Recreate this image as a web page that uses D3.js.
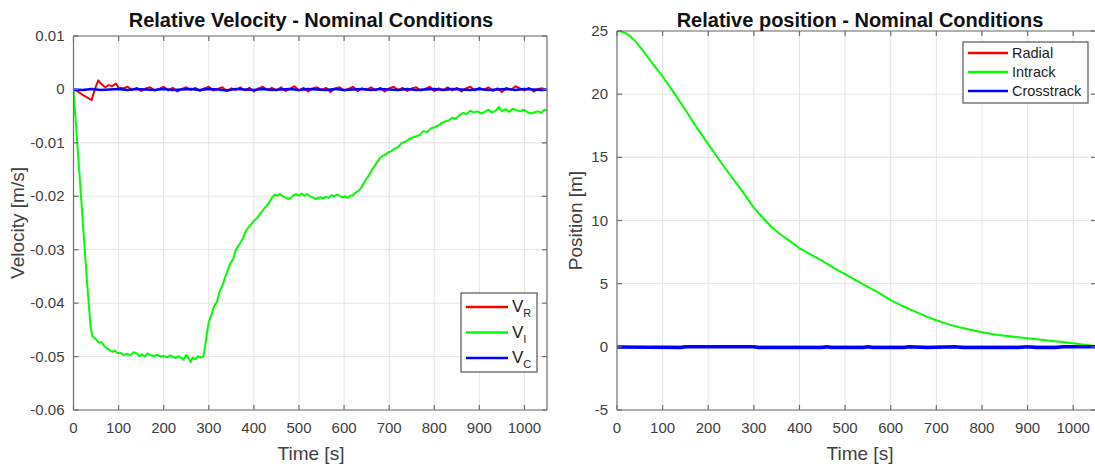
<!DOCTYPE html>
<html>
<head>
<meta charset="utf-8">
<script src="https://cdn.jsdelivr.net/npm/d3@7"></script>
<style>
  body { margin: 0; background: #fff; }
  svg { display: block; font-family: "Liberation Sans", Arial, sans-serif; }
</style>
</head>
<body>
<svg id="chart" width="1095" height="466"></svg>
<script>
// ---- data ----
var xTicks = [0, 100, 200, 300, 400, 500, 600, 700, 800, 900, 1000]
var velTicks = [0.01, 0, -0.01, -0.02, -0.03, -0.04, -0.05, -0.06]
var posTicks = [25, 20, 15, 10, 5, 0, -5]

// relative velocity, [time s, m/s]
var velIntrack = [[0,0],[5,-0.006],[10,-0.012],[20,-0.024],[30,-0.036],[38,-0.0445],[42,-0.0462],[50,-0.0468],[56,-0.0474],[62,-0.0473],[70,-0.0482],[78,-0.0487],[86,-0.0491],[92,-0.0489],[98,-0.0494],[104,-0.0493],[110,-0.0497],[118,-0.0495],[126,-0.0497],[134,-0.0492],[140,-0.0494],[146,-0.0499],[152,-0.0496],[158,-0.0500],[164,-0.0494],[170,-0.0497],[178,-0.0499],[186,-0.0497],[194,-0.0500],[200,-0.0499],[208,-0.0501],[214,-0.0498],[220,-0.0500],[226,-0.0503],[232,-0.0499],[238,-0.0502],[244,-0.0506],[250,-0.0497],[256,-0.0504],[260,-0.0510],[264,-0.0502],[270,-0.0505],[276,-0.0499],[282,-0.0502],[288,-0.0500],[292,-0.0480],[296,-0.0455],[300,-0.0435],[306,-0.0422],[312,-0.0405],[318,-0.0398],[324,-0.0378],[330,-0.0368],[336,-0.0352],[342,-0.0338],[348,-0.0325],[354,-0.0318],[360,-0.0300],[368,-0.0290],[376,-0.0278],[384,-0.0262],[392,-0.0255],[400,-0.0246],[408,-0.0240],[416,-0.0230],[424,-0.0222],[432,-0.0214],[440,-0.0203],[446,-0.0197],[452,-0.0199],[458,-0.0196],[464,-0.0200],[470,-0.0202],[476,-0.0205],[482,-0.0203],[488,-0.0198],[494,-0.0196],[500,-0.0199],[506,-0.0195],[512,-0.0199],[518,-0.0196],[524,-0.0200],[530,-0.0202],[536,-0.0205],[542,-0.0203],[548,-0.0202],[554,-0.0204],[560,-0.0201],[566,-0.0203],[572,-0.0198],[578,-0.0200],[584,-0.0197],[590,-0.0199],[596,-0.0202],[602,-0.0200],[608,-0.0203],[614,-0.0199],[620,-0.0198],[626,-0.0193],[632,-0.0190],[638,-0.0184],[644,-0.0175],[650,-0.0167],[656,-0.0160],[662,-0.0150],[668,-0.0143],[674,-0.0135],[680,-0.0128],[686,-0.0124],[692,-0.0122],[698,-0.0118],[704,-0.0116],[712,-0.0111],[720,-0.0108],[728,-0.0100],[736,-0.0098],[744,-0.0093],[752,-0.0090],[760,-0.0088],[768,-0.0085],[776,-0.0078],[784,-0.0080],[792,-0.0073],[800,-0.0071],[808,-0.0068],[816,-0.0063],[824,-0.0060],[832,-0.0058],[840,-0.0053],[848,-0.0055],[856,-0.0048],[864,-0.0044],[872,-0.0046],[880,-0.0040],[888,-0.0043],[896,-0.0041],[904,-0.0045],[912,-0.0042],[920,-0.0038],[928,-0.0043],[936,-0.0040],[944,-0.0033],[950,-0.0041],[958,-0.0037],[966,-0.0042],[974,-0.0036],[982,-0.0039],[990,-0.0041],[998,-0.0038],[1006,-0.0042],[1014,-0.0045],[1022,-0.0043],[1030,-0.0041],[1038,-0.0044],[1044,-0.0038],[1050,-0.0040]]

var velRadial = [[0,0],[10,-0.0004],[20,-0.0010],[30,-0.0015],[40,-0.0020],[48,0.0002],[55,0.0017],[62,0.0010],[70,0.0004],[78,0.0008],[86,0.0006],[94,0.0011],[100,0.0003],[110,0.0002],[120,0.0005],[130,-0.0001],[140,0.0003],[150,-0.0003],[160,0.0002],[170,0.0004],[180,-0.0002],[190,0.0001],[200,0.0005],[210,-0.0002],[220,0.0003],[230,-0.0004],[240,0.0001],[250,0.0004],[260,-0.0001],[270,0.0003],[280,-0.0003],[290,0.0002],[300,0.0005],[310,-0.0002],[320,0.0001],[330,0.0004],[340,-0.0003],[350,0.0002],[360,-0.0001],[370,0.0004],[380,-0.0002],[390,0.0003],[400,-0.0004],[410,0.0002],[420,0.0005],[430,-0.0001],[440,0.0003],[450,-0.0002],[460,0.0004],[470,-0.0003],[480,0.0001],[490,0.0006],[500,-0.0002],[510,0.0003],[520,-0.0004],[530,0.0002],[540,0.0004],[550,-0.0001],[560,0.0003],[570,-0.0005],[580,0.0002],[590,0.0004],[600,-0.0002],[610,0.0001],[620,0.0005],[630,-0.0003],[640,0.0002],[650,-0.0001],[660,0.0004],[670,-0.0002],[680,0.0003],[690,-0.0004],[700,0.0002],[710,0.0005],[720,-0.0001],[730,0.0003],[740,-0.0003],[750,0.0002],[760,0.0004],[770,-0.0002],[780,0.0001],[790,0.0005],[800,-0.0003],[810,0.0002],[820,-0.0001],[830,0.0004],[840,-0.0002],[850,0.0003],[860,-0.0004],[870,0.0002],[880,0.0005],[890,-0.0002],[900,0.0003],[910,-0.0001],[920,0.0004],[930,-0.0003],[940,0.0002],[950,-0.0005],[960,0.0003],[970,-0.0001],[980,0.0006],[990,0.0002],[1000,-0.0002],[1010,0.0003],[1020,-0.0004],[1030,0.0001],[1040,0.0002],[1050,-0.0001]]

var velCross = [[0,0],[20,-0.0001],[40,0.0001],[60,-0.0001],[80,0.0000],[100,0.0001],[120,-0.0001],[140,0.0001],[160,0.0000],[180,-0.0001],[200,0.0001],[220,-0.0001],[240,0.0000],[260,0.0001],[280,-0.0001],[300,0.0001],[320,0.0000],[340,-0.0002],[360,0.0001],[380,0.0000],[400,-0.0001],[420,0.0001],[440,-0.0001],[460,0.0000],[480,0.0001],[500,-0.0001],[520,0.0001],[540,0.0000],[560,-0.0001],[580,0.0001],[600,-0.0001],[620,0.0000],[640,0.0001],[660,-0.0001],[680,0.0001],[700,0.0000],[720,-0.0001],[740,0.0001],[760,-0.0001],[780,0.0000],[800,0.0001],[820,-0.0001],[840,0.0001],[860,0.0000],[880,-0.0001],[900,0.0001],[920,-0.0001],[940,0.0000],[960,0.0001],[980,-0.0001],[1000,0.0001],[1020,0.0000],[1040,-0.0001],[1050,0.0000]]

// relative position, [time s, m]
var posIntrack = [[0,25],[10,24.95],[20,24.8],[30,24.55],[40,24.2],[50,23.76],[60,23.3],[75,22.55],[100,21.4],[125,20.1],[150,18.75],[175,17.35],[200,16.05],[225,14.75],[250,13.5],[275,12.3],[300,11.0],[320,10.2],[340,9.45],[360,8.85],[380,8.35],[400,7.8],[425,7.3],[450,6.8],[475,6.25],[500,5.75],[525,5.25],[550,4.75],[575,4.25],[600,3.7],[625,3.25],[650,2.85],[675,2.45],[700,2.1],[725,1.8],[750,1.55],[775,1.35],[800,1.15],[825,1.0],[850,0.88],[875,0.78],[900,0.68],[925,0.58],[950,0.48],[975,0.38],[1000,0.28],[1025,0.16],[1050,0.05]]
var posRadial = [[0,0],[60,-0.03],[70,-0.06],[80,0],[1050,0]]
var posCross = [[0,-0.02],[140,-0.05],[150,0],[300,0],[310,-0.05],[450,-0.06],[460,0],[470,-0.05],[540,-0.06],[550,0],[560,-0.05],[630,-0.06],[640,0],[680,-0.05],[740,0],[760,-0.05],[880,-0.06],[900,0],[920,-0.06],[960,-0.05],[980,0],[1050,0]]

// ---- drawing ----
var svg = d3.select('#chart')
var TEXT = '#404040'
var AXIS = '#6e6e6e'

function drawPanel(cfg) {
  var x = d3.scaleLinear().domain([0, 1050]).range(cfg.xRange)
  var y = d3.scaleLinear().domain(cfg.yDomain).range(cfg.yRange)
  var g = svg.append('g')
  var x0 = cfg.xRange[0], x1 = cfg.xRange[1], y0 = cfg.yRange[1], y1 = cfg.yRange[0]

  // grid
  g.selectAll('.vgrid').data(xTicks.filter(function(d) { return d > 0 }))
    .enter().append('line')
    .attr('x1', x).attr('x2', x).attr('y1', y0).attr('y2', y1)
    .attr('stroke', '#e3e3e3').attr('stroke-width', 1)
  g.selectAll('.hgrid').data(cfg.yTicks)
    .enter().append('line')
    .attr('x1', x0).attr('x2', x1).attr('y1', y).attr('y2', y)
    .attr('stroke', '#e3e3e3').attr('stroke-width', 1)

  // series
  var line = d3.line().x(function(d) { return x(d[0]) }).y(function(d) { return y(d[1]) })
  var clipId = 'clip' + cfg.id
  svg.append('clipPath').attr('id', clipId).append('rect')
    .attr('x', x0).attr('y', y0 - 2).attr('width', x1 - x0).attr('height', y1 - y0 + 2)
  var plot = g.append('g').attr('clip-path', 'url(#' + clipId + ')')
  cfg.series.forEach(function(s) {
    plot.append('path').datum(s.data)
      .attr('d', line)
      .attr('fill', 'none')
      .attr('stroke', s.color)
      .attr('stroke-width', s.width)
      .attr('stroke-linejoin', 'round')
  })

  // axes box + inner ticks
  var box = g.append('g').attr('stroke', AXIS).attr('stroke-width', 1.2).attr('fill', 'none')
  box.append('line').attr('x1', x0).attr('x2', x0).attr('y1', y0).attr('y2', y1)
  box.append('line').attr('x1', x0).attr('x2', x1).attr('y1', y1).attr('y2', y1)
  box.append('line').attr('x1', x0).attr('x2', x1).attr('y1', y0).attr('y2', y0)
  box.append('line').attr('x1', x1).attr('x2', x1).attr('y1', y0).attr('y2', y1)
  xTicks.forEach(function(t) {
    box.append('line').attr('x1', x(t)).attr('x2', x(t)).attr('y1', y1).attr('y2', y1 - 5)
    box.append('line').attr('x1', x(t)).attr('x2', x(t)).attr('y1', y0).attr('y2', y0 + 5)
  })
  cfg.yTicks.forEach(function(t) {
    box.append('line').attr('x1', x0).attr('x2', x0 + 5).attr('y1', y(t)).attr('y2', y(t))
    box.append('line').attr('x1', x1).attr('x2', x1 - 5).attr('y1', y(t)).attr('y2', y(t))
  })

  // tick labels
  g.selectAll('.xl').data(xTicks).enter().append('text')
    .attr('x', x).attr('y', y1 + 23)
    .attr('text-anchor', 'middle').attr('font-size', 15).attr('fill', TEXT)
    .text(function(d) { return d })
  g.selectAll('.yl').data(cfg.yTicks).enter().append('text')
    .attr('x', x0 - 9).attr('y', function(d) { return y(d) + 5 })
    .attr('text-anchor', 'end').attr('font-size', 15).attr('fill', TEXT)
    .text(cfg.fmt)

  // titles
  g.append('text').attr('x', cfg.titleX).attr('y', 27)
    .attr('text-anchor', 'middle').attr('font-size', 20).attr('font-weight', 'bold').attr('fill', '#111')
    .text(cfg.title)
  g.append('text').attr('x', cfg.titleX).attr('y', 460)
    .attr('text-anchor', 'middle').attr('font-size', 19).attr('fill', TEXT)
    .text('Time [s]')
  g.append('text')
    .attr('transform', 'translate(' + cfg.yLabelX + ',' + ((y0 + y1) / 2) + ') rotate(-90)')
    .attr('text-anchor', 'middle').attr('font-size', 19).attr('fill', TEXT)
    .text(cfg.yLabel)

  // legend
  var L = cfg.legend
  var lg = g.append('g')
  lg.append('rect').attr('x', L.x).attr('y', L.y).attr('width', L.w).attr('height', L.h)
    .attr('fill', '#fff').attr('stroke', '#555').attr('stroke-width', 1.2)
  cfg.series.forEach(function(s, i) {
    var yy = L.y + L.first + i * L.step
    lg.append('line').attr('x1', L.x + 5).attr('x2', L.x + 5 + L.len).attr('y1', yy).attr('y2', yy)
      .attr('stroke', s.color).attr('stroke-width', 2.5)
    var t = lg.append('text').attr('x', L.x + 9 + L.len).attr('y', yy + 5)
      .attr('font-size', L.fs).attr('fill', '#222')
    if (s.sub) {
      t.append('tspan').text('V')
      t.append('tspan').attr('font-size', 11).attr('dy', 5).text(s.sub)
    } else {
      t.text(s.name)
    }
  })
}

drawPanel({
  id: 'vel',
  xRange: [73.5, 547],
  yDomain: [-0.06, 0.01],
  yRange: [410, 36],
  yTicks: velTicks,
  fmt: function(d) { return d === 0 ? '0' : d3.format('.2f')(d).replace('−', '-') },
  title: 'Relative Velocity - Nominal Conditions',
  titleX: 311,
  yLabel: 'Velocity [m/s]',
  yLabelX: 24,
  series: [
    { sub: 'R', data: velRadial, color: '#ff0000', width: 2 },
    { sub: 'I', data: velIntrack, color: '#00ff00', width: 2 },
    { sub: 'C', data: velCross, color: '#0000ff', width: 2.5 }
  ],
  legend: { x: 461, y: 293, w: 76, h: 79, first: 14, step: 25.5, len: 42, fs: 17 }
})

drawPanel({
  id: 'pos',
  xRange: [617, 1096],
  yDomain: [-5, 25],
  yRange: [410, 31],
  yTicks: posTicks,
  fmt: function(d) { return String(d) },
  title: 'Relative position - Nominal Conditions',
  titleX: 860,
  yLabel: 'Position [m]',
  yLabelX: 582,
  series: [
    { name: 'Radial', data: posRadial, color: '#ff0000', width: 2 },
    { name: 'Intrack', data: posIntrack, color: '#00ff00', width: 2 },
    { name: 'Crosstrack', data: posCross, color: '#0000ff', width: 3.5 }
  ],
  legend: { x: 963, y: 42, w: 125, h: 61, first: 11, step: 19, len: 40, fs: 14.5 }
})
</script>
</body>
</html>
